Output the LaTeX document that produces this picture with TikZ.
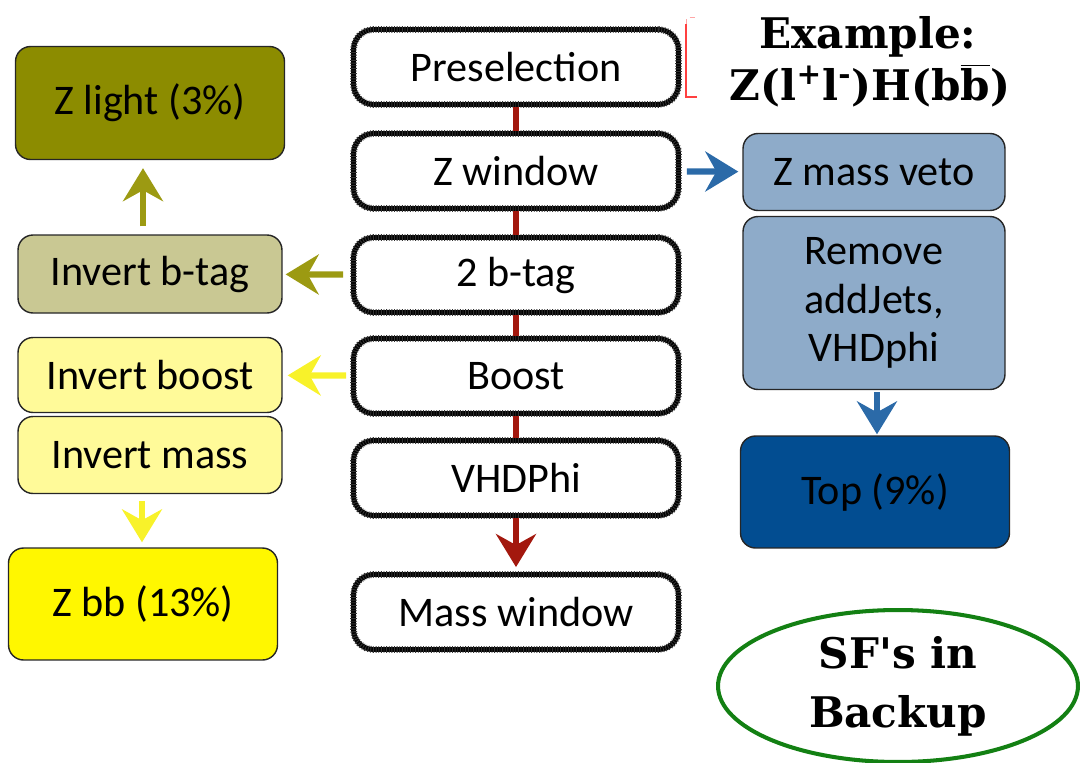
\documentclass[tikz,border=0pt]{standalone}
\usepackage{fontspec}
\setmainfont{Carlito}
\newfontfamily\titlefont{DejaVu Serif}
\usetikzlibrary{shapes.geometric, arrows.meta, positioning, calc}

\definecolor{zlight}{HTML}{8C8C00}
\definecolor{invbtag}{HTML}{C9C893}
\definecolor{invpale}{HTML}{FFFA99}
\definecolor{zbbyellow}{HTML}{FFF700}
\definecolor{vetoblue}{HTML}{8EABC9}
\definecolor{topblue}{HTML}{024D91}
\definecolor{chainred}{HTML}{A3180E}
\definecolor{olivearrow}{HTML}{9C9A12}
\definecolor{yellowarrow}{HTML}{F8F22A}
\definecolor{bluearrow}{HTML}{2B6AA8}
\definecolor{sfgreen}{HTML}{138013}

\begin{document}
\begin{tikzpicture}[x=0.02cm, y=-0.02cm,
  cutbox/.style={draw=black, line width=2.8pt, rounded corners=0.4cm,
    minimum width=6.5cm, minimum height=1.5cm, inner sep=0pt,
    font=\fontsize{24}{27}\selectfont,
    postaction={draw=black!80, line width=3.8pt, dash pattern=on 0.5pt off 1pt}},
  catbox/.style={draw=black!85, line width=0.8pt, rounded corners=0.3cm,
    inner sep=0pt, align=center, font=\fontsize{24}{27.5}\selectfont},
  chainline/.style={draw=chainred, line width=3pt},
  fatarrow/.style={line width=3.6pt,
    -{Stealth[length=0.66cm, width=0.8cm, inset=0.22cm]}},
  serifbold/.style={font=\titlefont\bfseries\fontsize{#1}{33.5}\selectfont}]

\useasboundingbox (0,0) rectangle (1080,762);

% Cut flow
\node[cutbox] (presel) at (516,67) {Preselection};
\node[cutbox] (zwin) at (516,171) {Z window};
\node[cutbox] (btag) at (516,275) {2 b-tag};
\node[cutbox] (boost) at (516,376) {Boost};
\node[cutbox] (vhdphi) at (516,478) {VHDPhi};
\node[cutbox] (masswin) at (516,612) {Mass window};

\draw[chainline] (presel) -- (zwin);
\draw[chainline] (zwin) -- (btag);
\draw[chainline] (btag) -- (boost);
\draw[chainline] (boost) -- (vhdphi);
\draw[chainline, fatarrow, shorten >=0.1cm] (vhdphi) -- (masswin);

% red mark
\draw[red!75, line width=0.6pt] (697,97) -- (686,97) -- (686,24);
\draw[red!35, line width=0.5pt, dashed] (686,24) -- (686,17) -- (697,17);

% Control regions, left
\node[catbox, fill=zlight, minimum width=5.38cm, minimum height=2.26cm] (zl) at (150,103) {Z light (3\%)};
\node[catbox, fill=invbtag, minimum width=5.28cm, minimum height=1.56cm] (invb) at (150,274) {Invert b-tag};
\node[catbox, fill=invpale, minimum width=5.28cm, minimum height=1.5cm] (invboost) at (150,375) {Invert boost};
\node[catbox, fill=invpale, minimum width=5.28cm, minimum height=1.54cm] (invmass) at (150,455) {Invert mass};
\node[catbox, fill=zbbyellow, minimum width=5.38cm, minimum height=2.24cm] (zbb) at (143,604) {Z bb (13\%)};

\draw[fatarrow, olivearrow, shorten <=0.16cm, shorten >=0.06cm] (btag) -- (invb);
\draw[fatarrow, olivearrow, shorten <=0.16cm, shorten >=0.16cm] ($(invb.north)+(-7,0)$) -- ($(zl.south)+(-7,0)$);
\draw[fatarrow, yellowarrow, shorten <=0.1cm, shorten >=0.1cm] (boost) -- (invboost);
\draw[fatarrow, yellowarrow, shorten <=0.14cm, shorten >=0.1cm] ($(invmass.south)+(-8,0)$) -- ($(zbb.north)+(-1,0)$);

% Control regions, right
\node[catbox, fill=vetoblue, minimum width=5.24cm, minimum height=1.54cm] (veto) at (874,172) {Z mass veto};
\node[catbox, fill=vetoblue, minimum width=5.24cm, minimum height=3.46cm] (remove) at (874,303) {Remove\\addJets,\\VHDphi};
\node[catbox, fill=topblue, minimum width=5.38cm, minimum height=2.24cm] (top) at (875,492) {Top (9\%)};

\draw[fatarrow, bluearrow, shorten <=0.12cm, shorten >=0.08cm] (zwin) -- (veto);
\draw[fatarrow, bluearrow, shorten <=0.04cm, shorten >=0.02cm] ($(remove.south)+(3,0)$) -- ($(top.north)+(2,0)$);

% Title
\node[serifbold=24, anchor=base] (example) at (868,48) {Example:};
\node[serifbold=24, anchor=base] (process) at (870,100) {Z(l\textsuperscript{+}l\textsuperscript{-})H(b$\overline{\hbox{b}}$)};

% Backup note
\node[ellipse, draw=sfgreen, line width=2.3pt, minimum width=7.2cm, minimum height=3.04cm,
  inner sep=0pt, align=center, serifbold=24] (sf) at (898,686) {SF's in\\Backup};

\end{tikzpicture}
\end{document}
